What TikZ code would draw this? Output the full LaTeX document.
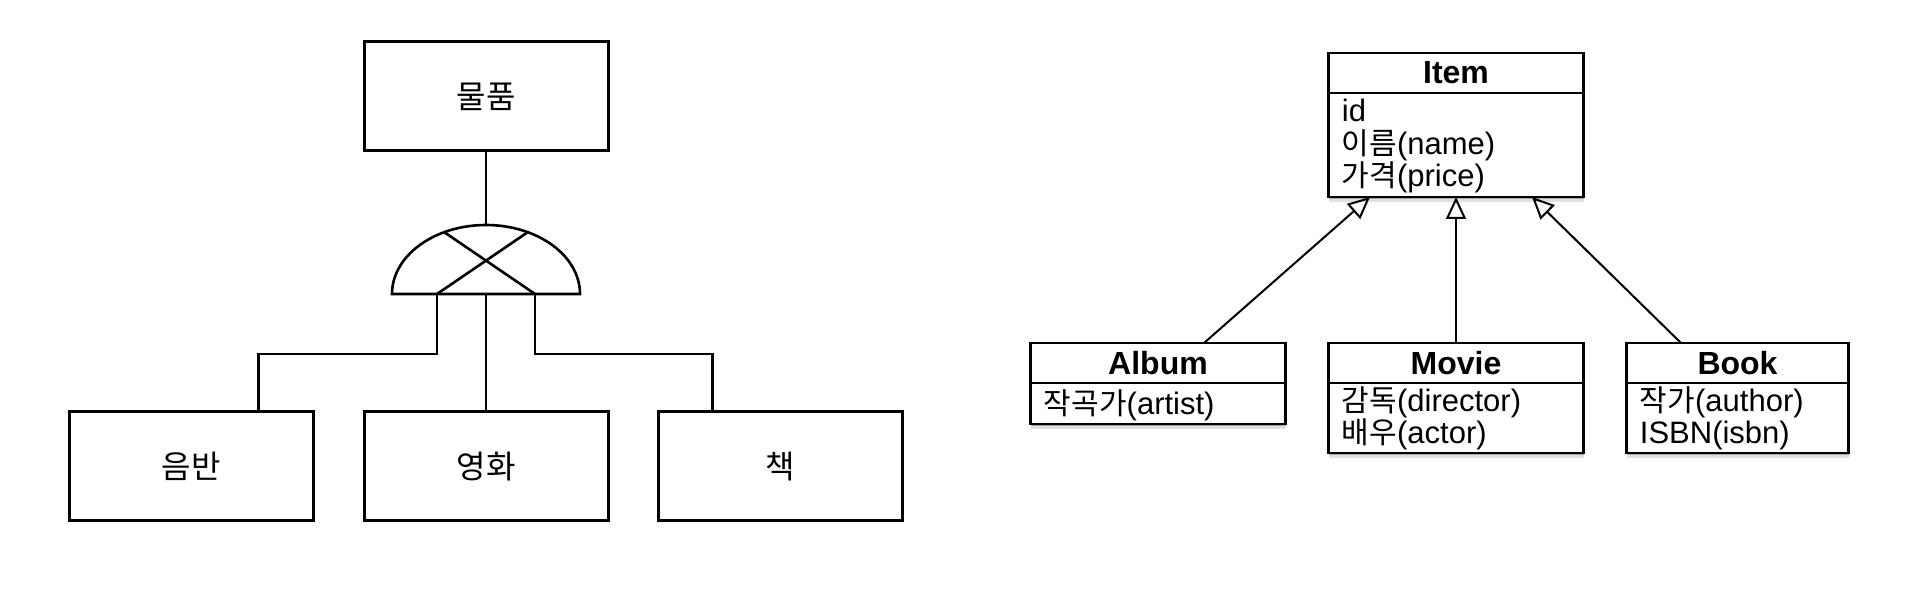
\documentclass[tikz,border=0pt]{standalone}
\usepackage{fontspec}
\setmainfont{Liberation Sans}
\newfontfamily\krfont{Noto Sans CJK KR}
\newcommand{\kotext}[1]{{\krfont\fontsize{15pt}{18pt}\selectfont #1}}
\usepackage{tikz}
\usetikzlibrary{positioning}
\usetikzlibrary{arrows.meta,shadows}

\begin{document}
\begin{tikzpicture}[%
    x=0.5pt, y=0.5pt,
    node distance=21.5pt,
    link/.style={line width=1.3pt},
    entity/.style={%
      rectangle,
      minimum width=122pt,
      minimum height=54.5pt,
      inner sep=0pt, outer sep=0pt,
      line width=1.5pt,
      font=\krfont\fontsize{16pt}{19pt}\selectfont,
      draw
    },
    umlshadow/.style={%
      drop shadow={shadow xshift=0pt, shadow yshift=-2.5pt, opacity=0.12, fill=black},
      drop shadow={shadow xshift=0.3pt, shadow yshift=-1.2pt, opacity=0.25, fill=black}
    },
    classhead/.style={%
      rectangle,
      minimum width=127.5pt,
      minimum height=20pt,
      inner sep=0pt, outer sep=0pt,
      line width=1.3pt,
      fill=white,
      umlshadow,
      font=\fontsize{16pt}{18pt}\selectfont\bfseries,
      draw
    },
    classbody/.style={classhead, font=\fontsize{15.5pt}{18pt}\selectfont},
    attr/.style={anchor=base west, inner sep=0pt, font=\fontsize{15.5pt}{18pt}\selectfont},
    inherit/.style={-{Triangle[open, length=11pt, width=10pt]}, line width=1pt}
  ]
  \useasboundingbox (0,0) rectangle (1922,-608);

  % Nodes (left: ER disjoint subtypes):
    \node[entity] (goods) at (486,-96.5)          {물품};
    \coordinate (disj) at (486,-294);
    \node[entity] (film) at (486,-466.5)          {영화};
    \node[entity] (record) [left=25.5pt of film]  {음반};
    \node[entity] (book)   [right=25pt of film]   {책};

  % Disjoint symbol:
    \draw[link] ([xshift=-47pt]disj) arc[start angle=180, end angle=0, x radius=47pt, y radius=34.5pt] -- cycle;
    \draw[link] ([xshift=-24.5pt]disj) -- ([shift={(42,62)}]disj);
    \draw[link] ([xshift=24.5pt]disj) -- ([shift={(-42,62)}]disj);

  % Paths:
    \path (goods) edge[link] ([yshift=34.5pt]disj)
          (disj)  edge[link] (film);
    \draw[link] ([xshift=-24.5pt]disj) -- ++(0,-60) -| ([xshift=33.75pt]record.north);
    \draw[link] ([xshift=24.5pt]disj)  -- ++(0,-60) -| ([xshift=-33.75pt]book.north);

  % Nodes (right: class diagram):
    \node[classhead] (itemhead) at (1456,-73)                 {Item};
    \node[classbody, minimum height=52pt] (itembody) [below=0pt of itemhead] {};
    \node[classhead] (moviehead) at (1456,-363)               {Movie};
    \node[classbody, minimum height=35pt] (moviebody) [below=0pt of moviehead] {};
    \node[classhead] (albumhead) [left=of moviehead]          {Album};
    \node[classbody, minimum height=20.5pt] (albumbody) [below=0pt of albumhead] {};
    \node[classhead, minimum width=111pt] (bookhead) [right=of moviehead] {Book};
    \node[classbody, minimum width=111pt, minimum height=35pt] (bookbody) [below=0pt of bookhead] {};

  % Attributes:
    \foreach \txt [count=\i] in {id,\kotext{이름}(name),\kotext{가격}(price)}
      \node[attr] (item-\i) at ([xshift=6.5pt, yshift={-14.5pt-(\i-1)*16.25pt}]itembody.north west) {\txt};
    \node[attr] (album-1) at ([xshift=6.5pt, yshift=-16pt]albumbody.north west) {\kotext{작곡가}(artist)};
    \foreach \txt [count=\i] in {\kotext{감독}(director),\kotext{배우}(actor)}
      \node[attr] (movie-\i) at ([xshift=6.5pt, yshift={-14.5pt-(\i-1)*16pt}]moviebody.north west) {\txt};
    \foreach \txt [count=\i] in {\kotext{작가}(author),ISBN(isbn)}
      \node[attr] (book-\i) at ([xshift=6.5pt, yshift={-14.5pt-(\i-1)*16pt}]bookbody.north west) {\txt};

  % Generalisation:
    \path ([xshift=23pt]albumhead.north)     edge[inherit] ([xshift=-43pt]itembody.south)
          (moviehead)                        edge[inherit] (itembody)
          ([xshift=-28.25pt]bookhead.north)  edge[inherit] ([xshift=38pt]itembody.south);
\end{tikzpicture}
\end{document}
